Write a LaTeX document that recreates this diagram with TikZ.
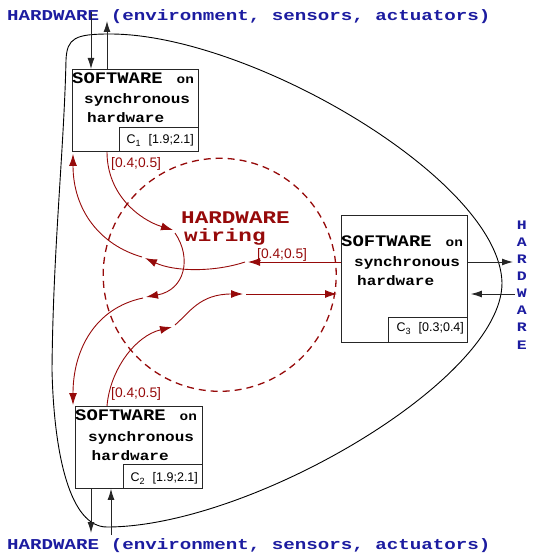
\documentclass[tikz,border=0pt]{standalone}
\usepackage{fontspec}
\setmainfont{Liberation Sans}
\newfontfamily\hwfont[FakeStretch=1.27]{Liberation Mono}
\newfontfamily\swfont[FakeStretch=1.17]{Liberation Mono}
\usetikzlibrary{arrows.meta,calc}
\definecolor{hwblue}{RGB}{28,28,160}
\definecolor{wred}{RGB}{150,10,10}
\newcommand\swbig{\fontsize{16.1}{16.1}\selectfont}
\newcommand\swon{\fontsize{12.3}{12.3}\selectfont}
\newcommand\swmid{\fontsize{13.7}{13.7}\selectfont}
\newcommand\subnum[1]{\raisebox{-3pt}{\fontsize{9}{9}\selectfont #1}}
\begin{document}
\begin{tikzpicture}[x=1pt,y=-1pt,
  box/.style={draw=black!85, line width=0.9pt, inner sep=0, anchor=north west},
  subbox/.style={draw=black!85, line width=0.9pt, inner sep=0, anchor=south east, minimum width=79pt, minimum height=24pt},
  swtext/.style={inner sep=0, anchor=base west, font=\swfont\bfseries},
  hwlabel/.style={inner sep=0, anchor=base west, text=hwblue, font=\hwfont\bfseries\fontsize{15.1}{15.1}\selectfont},
  vlet/.style={inner sep=0, anchor=base, text=hwblue, font=\hwfont\bfseries\fontsize{13}{13}\selectfont},
  wiretext/.style={inner sep=0, anchor=base west, text=wred, font=\hwfont\bfseries\fontsize{17.8}{17.8}\selectfont},
  clabel/.style={inner sep=0, anchor=base west, font=\fontsize{12.5}{12.5}\selectfont},
  rlabel/.style={inner sep=0, anchor=base west, text=wred, font=\fontsize{13.8}{13.8}\selectfont},
  rarrow/.style={draw=wred, line width=0.9pt, -{Latex[length=12pt,width=8pt]}},
  barrow/.style={draw=black!85, line width=0.9pt, -{Latex[length=11pt,width=7pt]}},
]
\useasboundingbox (0,0) rectangle (532,553);

% big environment outline
\draw[black, line width=0.9pt] (66,60) .. controls (67,38) and (75,34) .. (110,34)
  .. controls (250,34) and (500,180) .. (502,283)
  .. controls (502,380) and (250,527) .. (107,527)
  .. controls (70,527) and (54,455) .. (52,370)
  .. controls (53,250) and (64,150) .. (66,60) -- cycle;

% labels
\node[hwlabel] (top) at (7,20.7) {HARDWARE (environment, sensors, actuators)};
\node[hwlabel] (bot) at (7,549.8) {HARDWARE (environment, sensors, actuators)};
\foreach \l [count=\i from 0] in {H,A,R,D,W,A,R,E}
  \node[vlet] (v\i) at (521.7,{229.3+\i*17.1}) {\l};

% wiring circle
\node[draw=wred, line width=1.3pt, dash pattern=on 7pt off 5pt, circle, inner sep=0, minimum size=233pt] (wire) at (219.7,274.8) {};
\node[wiretext] (hw1) at (181,223.3) {HARDWARE};
\node[wiretext] (hw2) at (184,241.7) {wiring};

% boxes
\node[box, minimum width=126pt, minimum height=82pt] (c1) at (72,69) {};
\node[box, minimum width=127pt, minimum height=82pt] (c2) at (75,406) {};
\node[box, minimum width=126pt, minimum height=127pt] (c3) at (341,215) {};
\node[subbox] (s1) at (c1.south east) {};
\node[subbox] (s2) at (c2.south east) {};
\node[subbox, minimum height=25pt] (s3) at (c3.south east) {};

% box texts
\node[swtext] (a1) at (72,84) {{\swbig SOFTWARE}\hspace{14pt}{\swon on}};
\node[swtext] (b1) at (84,103.5) {\swmid synchronous};
\node[swtext] (d1) at (87,123) {\swmid hardware};
\node[clabel] (e1) at (126.5,144) {C\subnum{1}\hspace{8pt}[1.9;2.1]};

\node[swtext] (a2) at (75,420.7) {{\swbig SOFTWARE}\hspace{14pt}{\swon on}};
\node[swtext] (b2) at (88,441) {\swmid synchronous};
\node[swtext] (d2) at (91.5,460) {\swmid hardware};
\node[clabel] (e2) at (130.5,481.7) {C\subnum{2}\hspace{8pt}[1.9;2.1]};

\node[swtext] (a3) at (341,246.7) {{\swbig SOFTWARE}\hspace{14pt}{\swon on}};
\node[swtext] (b3) at (354,266) {\swmid synchronous};
\node[swtext] (d3) at (357,285) {\swmid hardware};
\node[clabel] (e3) at (396.5,331.7) {C\subnum{3}\hspace{8pt}[0.3;0.4]};

% black I/O arrows
\coordinate (t1) at (91,12);
\coordinate (t2) at (107,21);
\coordinate (u1) at (91,533);
\coordinate (u2) at (111,535);
\coordinate (r1) at (513,262);
\coordinate (r2) at (515,294);
\draw[barrow] (t1) -- ($(c1.north west)+(19,0)$);
\draw[barrow] ($(c1.north west)+(35,0)$) -- (t2);
\draw[barrow] ($(c2.south west)+(16,0)$) -- (u1);
\draw[barrow] (u2) -- ($(c2.south west)+(36,0)$);
\draw[barrow] ($(c3.north east)+(0,47)$) -- (r1);
\draw[barrow] (r2) -- ($(c3.north east)+(3,79)$);

% red wiring arrows
\coordinate (j1) at (173,230);
\coordinate (j1b) at (175,233);
\coordinate (j2) at (146,297);
\coordinate (j2b) at (143,298);
\draw[rarrow] ($(c1.south west)+(35,0)$) .. controls (107,195) and (140,220) .. (j1);
\draw[rarrow] (j1b) .. controls (192,258) and (185,290) .. (j2);
\draw[rarrow] (j2b) .. controls (95,308) and (73,350) .. ($(c2.north west)+(-2,-1)$);

\coordinate (k1) at (248,262);
\coordinate (k1b) at (245,262);
\coordinate (k2) at (145,258);
\coordinate (k2b) at (142,257);
\draw[rarrow] ($(c3.north west)+(0,47)$) -- (k1);
\draw[rarrow] (k1b) .. controls (215,272) and (175,272) .. (k2);
\draw[rarrow] (k2b) .. controls (100,245) and (73,210) .. ($(c1.south west)+(1,2)$);

\coordinate (m1) at (172,327);
\coordinate (m1b) at (175,325);
\coordinate (m2) at (243,294);
\coordinate (m2b) at (246,294);
\draw[rarrow] ($(c2.north west)+(32,0)$) .. controls (110,370) and (135,336) .. (m1);
\draw[rarrow] (m1b) .. controls (190,312) and (200,294) .. (m2);
\draw[rarrow] (m2b) -- ($(c3.north west)+(-4,79)$);

\node[rlabel] (l1) at (111,167.7) {[0.4;0.5]};
\node[rlabel] (l2) at (111,397.7) {[0.4;0.5]};
\node[rlabel] (l3) at (257,258) {[0.4;0.5]};
\end{tikzpicture}
\end{document}
